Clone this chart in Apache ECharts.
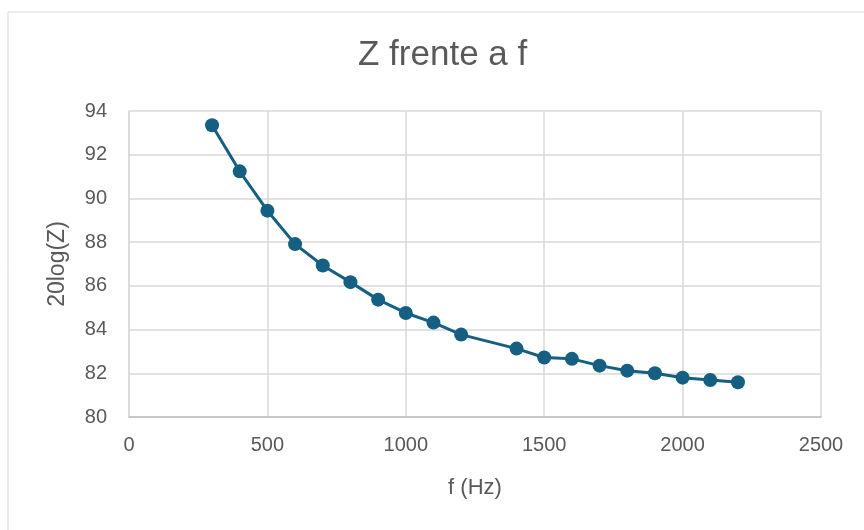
<!DOCTYPE html>
<html>
<head>
<meta charset="utf-8">
<script src="https://cdn.jsdelivr.net/npm/echarts@6/dist/echarts.min.js"></script>
<style>
  html, body { margin: 0; padding: 0; background: #fff; }
  #chart { width: 864px; height: 530px; }
</style>
</head>
<body>
<div id="chart"></div>
<script>
const freqs = [300, 400, 500, 600, 700, 800, 900, 1000, 1100, 1200, 1400, 1500, 1600, 1700, 1800, 1900, 2000, 2100, 2200]
const zdb = [93.35, 91.24, 89.44, 87.91, 86.93, 86.17, 85.37, 84.76, 84.32, 83.77, 83.13, 82.72, 82.66, 82.35, 82.12, 82.0, 81.8, 81.69, 81.59]

const font = "'Liberation Sans', Arial, sans-serif"
const textColor = "#595959"

const chart = echarts.init(document.getElementById("chart"), null, { renderer: "canvas" })

chart.setOption({
  animation: false,
  title: {
    text: "Z frente a f",
    left: 353,
    top: 33,
    textStyle: { fontFamily: font, fontSize: 35, fontWeight: "normal", color: textColor }
  },
  graphic: [
    {
      type: "rect",
      shape: { x: 8, y: 12, width: 900, height: 600 },
      style: { fill: "none", stroke: "#d9d9d9", lineWidth: 1 },
      silent: true
    }
  ],
  grid: { left: 129, right: 43, top: 111, bottom: 113 },
  xAxis: {
    type: "value",
    min: 0,
    max: 2500,
    interval: 500,
    name: "f (Hz)",
    nameLocation: "middle",
    nameGap: 60,
    nameTextStyle: { fontFamily: font, fontSize: 22, color: textColor },
    axisLine: { show: true, lineStyle: { color: "#bfbfbf", width: 1.5 } },
    axisTick: { show: false },
    axisLabel: { fontFamily: font, fontSize: 20, color: textColor, margin: 18, formatter: (v) => String(v) },
    splitLine: { show: true, lineStyle: { color: "#d9d9d9", width: 1.5 } }
  },
  yAxis: {
    type: "value",
    min: 80,
    max: 94,
    interval: 2,
    name: "20log(Z)",
    nameLocation: "middle",
    nameGap: 60,
    nameRotate: 90,
    nameTextStyle: { fontFamily: font, fontSize: 23, color: textColor },
    axisLine: { show: true, lineStyle: { color: "#d9d9d9", width: 1.5 } },
    axisTick: { show: false },
    axisLabel: { fontFamily: font, fontSize: 20, color: textColor, margin: 22 },
    splitLine: { show: true, lineStyle: { color: "#d9d9d9", width: 1.5 } }
  },
  series: [
    {
      type: "line",
      data: freqs.map((f, i) => [f, zdb[i]]),
      symbol: "circle",
      symbolSize: 14,
      lineStyle: { color: "#156082", width: 3 },
      itemStyle: { color: "#156082" }
    }
  ]
})
</script>
</body>
</html>
